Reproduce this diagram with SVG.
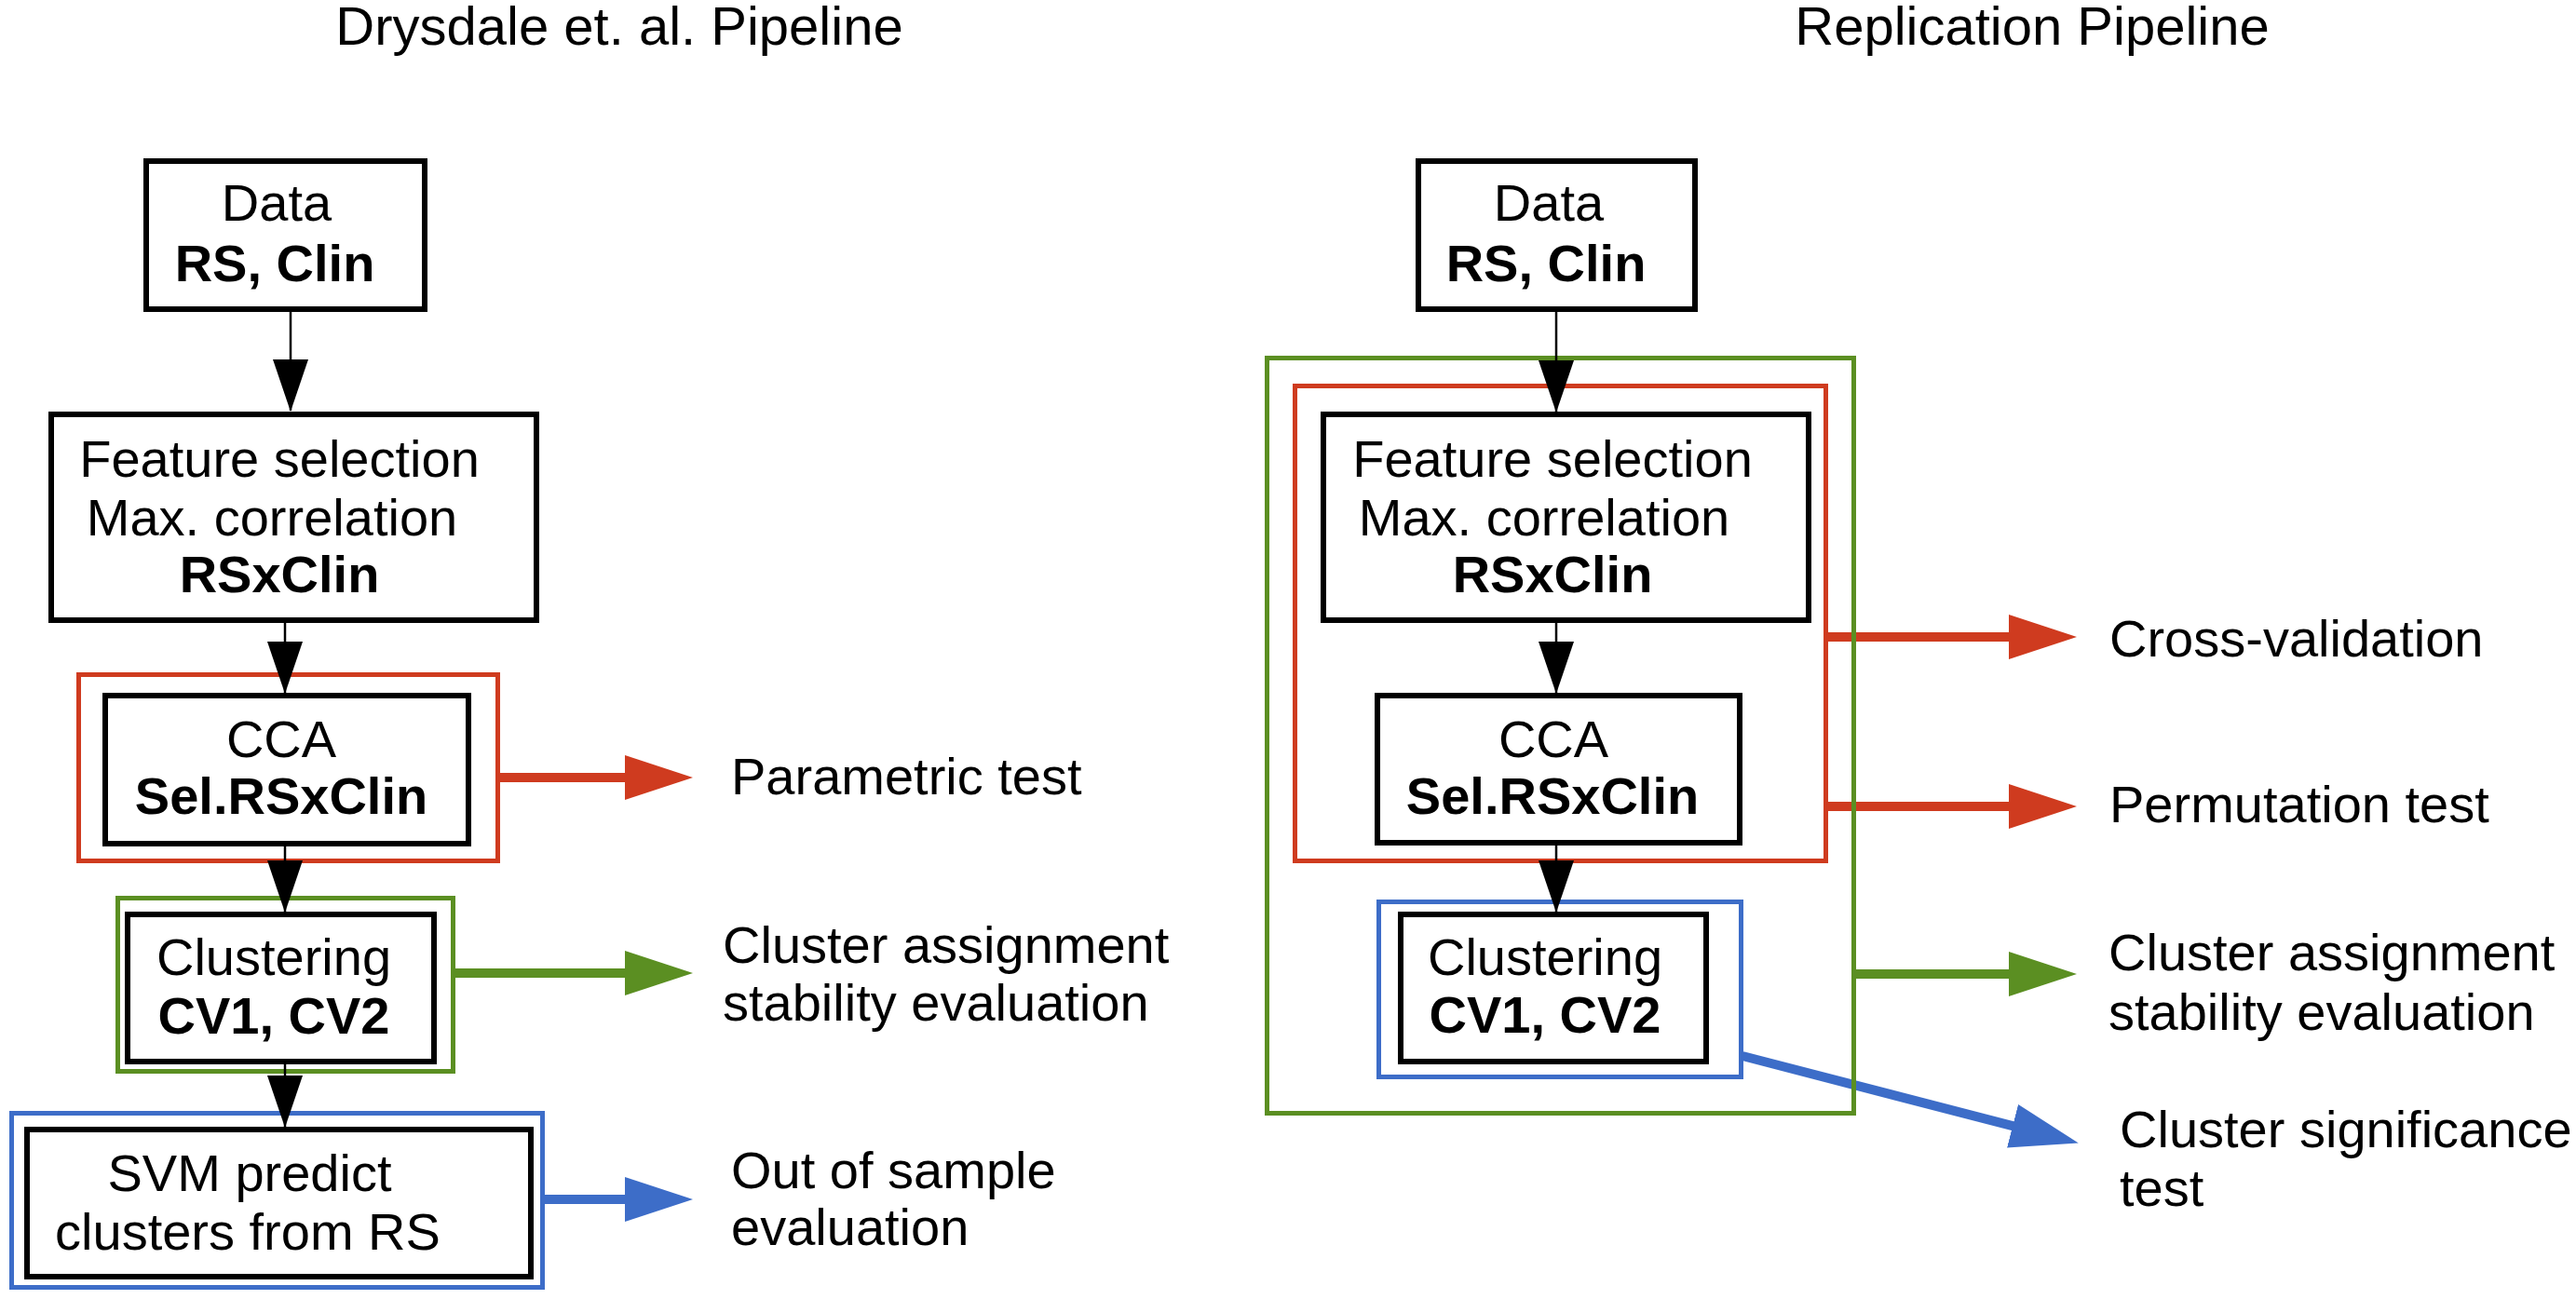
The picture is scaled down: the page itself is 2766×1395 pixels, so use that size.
<svg xmlns="http://www.w3.org/2000/svg" width="2766" height="1395" viewBox="0 0 2766 1395">
<style>
  text { font-family: "Liberation Sans", Arial, sans-serif; font-size: 56px; fill: #000; }
  .title { font-size: 58px; }
  .b { font-weight: bold; }
  .m { text-anchor: middle; }
  .box { fill: #fff; stroke: #000; stroke-width: 6; }
  .red { fill: none; stroke: #cf3b1f; stroke-width: 5; }
  .green { fill: none; stroke: #5b8f22; stroke-width: 5; }
  .blue { fill: none; stroke: #3d6dc8; stroke-width: 5; }
  .flow { stroke: #000; stroke-width: 2.5; fill: none; marker-end: url(#ah); }
  .rl { stroke: #cf3b1f; stroke-width: 10; fill: none; marker-end: url(#ahr); }
  .gl { stroke: #5b8f22; stroke-width: 10; fill: none; marker-end: url(#ahg); }
  .bl { stroke: #3d6dc8; stroke-width: 10; fill: none; marker-end: url(#ahb); }
</style>
<defs>
  <marker id="ah" markerUnits="userSpaceOnUse" markerWidth="56" markerHeight="38" refX="55" refY="19" orient="auto">
    <path d="M0,0 L56,19 L0,38 z" fill="#000"/>
  </marker>
  <marker id="ahr" markerUnits="userSpaceOnUse" markerWidth="74" markerHeight="50" refX="2" refY="25" orient="auto">
    <path d="M0,1 L73,25 L0,49 z" fill="#cf3b1f"/>
  </marker>
  <marker id="ahg" markerUnits="userSpaceOnUse" markerWidth="74" markerHeight="50" refX="2" refY="25" orient="auto">
    <path d="M0,1 L73,25 L0,49 z" fill="#5b8f22"/>
  </marker>
  <marker id="ahb" markerUnits="userSpaceOnUse" markerWidth="74" markerHeight="50" refX="2" refY="25" orient="auto">
    <path d="M0,1 L73,25 L0,49 z" fill="#3d6dc8"/>
  </marker>
</defs>
<rect width="2766" height="1395" fill="#fff"/>

<g id="titles">
  <text class="title m" x="665" y="48">Drysdale et. al. Pipeline</text>
  <text class="title m" x="2182" y="48">Replication Pipeline</text>
</g>

<g id="connectors-results">
  <line class="rl" x1="537" y1="835" x2="673" y2="835"/>
  <line class="gl" x1="489" y1="1045" x2="673" y2="1045"/>
  <line class="bl" x1="585" y1="1288" x2="673" y2="1288"/>
  <line class="rl" x1="1963" y1="684" x2="2159" y2="684"/>
  <line class="rl" x1="1963" y1="866" x2="2159" y2="866"/>
  <line class="gl" x1="1993" y1="1046" x2="2159" y2="1046"/>
  <line class="bl" x1="1871" y1="1134" x2="2163" y2="1209.7"/>
</g>

<!-- Left pipeline -->
<g id="L-data">
  <rect class="box" x="157" y="173" width="299" height="159"/>
  <text class="m" x="297" y="237">Data</text>
  <text class="m b" x="295" y="302">RS, Clin</text>
</g>
<g id="L-feature">
  <rect class="box" x="55" y="445" width="521" height="221"/>
  <text class="m" x="300" y="512">Feature selection</text>
  <text class="m" x="292" y="575">Max. correlation</text>
  <text class="m b" x="300" y="636">RSxClin</text>
</g>
<g id="L-cca-group">
  <rect class="red" x="84.5" y="724.5" width="450" height="200"/>
</g>
<g id="L-cca">
  <rect class="box" x="113" y="747" width="390" height="159"/>
  <text class="m" x="302" y="813">CCA</text>
  <text class="m b" x="302" y="874">Sel.RSxClin</text>
</g>
<g id="L-clust-group">
  <rect class="green" x="126.5" y="964.5" width="360" height="186"/>
</g>
<g id="L-clustering">
  <rect class="box" x="137" y="982" width="329" height="158"/>
  <text class="m" x="294" y="1047">Clustering</text>
  <text class="m b" x="294" y="1110">CV1, CV2</text>
</g>
<g id="L-svm-group">
  <rect class="blue" x="12.5" y="1195.5" width="570" height="187"/>
</g>
<g id="L-svm">
  <rect class="box" x="29" y="1213" width="541" height="158"/>
  <text class="m" x="268" y="1279">SVM predict</text>
  <text class="m" x="266" y="1342">clusters from RS</text>
</g>
<g id="L-labels">
  <text x="785" y="853">Parametric test</text>
  <text x="776" y="1034">Cluster assignment</text>
  <text x="776" y="1096">stability evaluation</text>
  <text x="785" y="1276">Out of sample</text>
  <text x="785" y="1337">evaluation</text>
</g>

<!-- Right pipeline -->
<g id="R-data">
  <rect class="box" x="1523" y="173" width="297" height="159"/>
  <text class="m" x="1663" y="237">Data</text>
  <text class="m b" x="1660" y="302">RS, Clin</text>
</g>
<g id="R-green-group">
  <rect class="green" x="1360.5" y="384.5" width="630" height="811"/>
</g>
<g id="R-red-group">
  <rect class="red" x="1390.5" y="414.5" width="570" height="510"/>
</g>
<g id="R-feature">
  <rect class="box" x="1421" y="445" width="521" height="221"/>
  <text class="m" x="1667" y="512">Feature selection</text>
  <text class="m" x="1658" y="575">Max. correlation</text>
  <text class="m b" x="1667" y="636">RSxClin</text>
</g>
<g id="R-cca">
  <rect class="box" x="1479" y="747" width="389" height="158"/>
  <text class="m" x="1668" y="813">CCA</text>
  <text class="m b" x="1667" y="874">Sel.RSxClin</text>
</g>
<g id="R-blue-group">
  <rect class="blue" x="1480.5" y="968.5" width="389" height="188"/>
</g>
<g id="R-clustering">
  <rect class="box" x="1504" y="982" width="328" height="158"/>
  <text class="m" x="1659" y="1047">Clustering</text>
  <text class="m b" x="1659" y="1109">CV1, CV2</text>
</g>
<g id="R-labels">
  <text x="2265" y="705">Cross-validation</text>
  <text x="2265" y="883">Permutation test</text>
  <text x="2264" y="1042">Cluster assignment</text>
  <text x="2264" y="1106">stability evaluation</text>
  <text x="2276" y="1232">Cluster significance</text>
  <text x="2276" y="1295">test</text>
</g>

<g id="connectors-flow">
  <line class="flow" x1="312" y1="335" x2="312" y2="441"/>
  <line class="flow" x1="306" y1="669" x2="306" y2="744"/>
  <line class="flow" x1="306" y1="909" x2="306" y2="979"/>
  <line class="flow" x1="306" y1="1143" x2="306" y2="1210"/>
  <line class="flow" x1="1671" y1="335" x2="1671" y2="442"/>
  <line class="flow" x1="1671" y1="669" x2="1671" y2="744"/>
  <line class="flow" x1="1671" y1="908" x2="1671" y2="979"/>
</g>
</svg>
